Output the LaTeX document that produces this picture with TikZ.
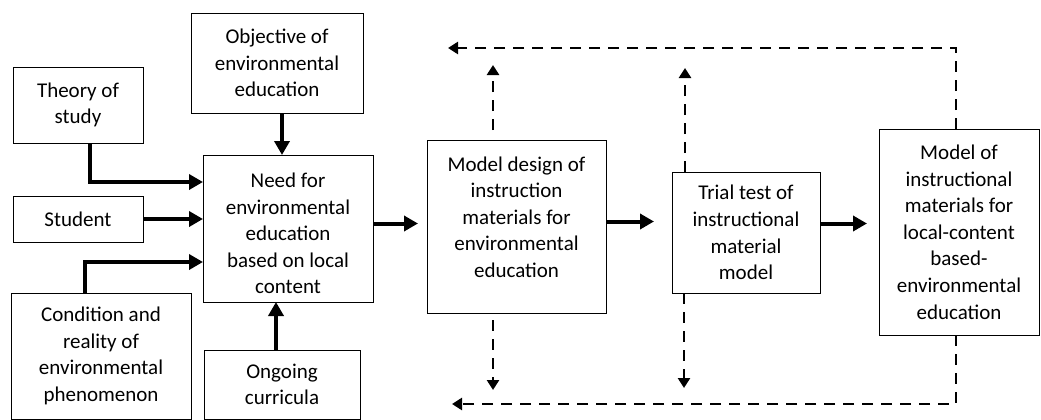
\documentclass[tikz,border=0pt]{standalone}
\usepackage{fontspec}
\setmainfont{Carlito}
\usetikzlibrary{arrows.meta}
\begin{document}
\begin{tikzpicture}[x=1pt,y=-1pt,
  box/.style={draw, line width=0.9pt, inner sep=0pt, outer sep=0pt, align=center, font=\fontsize{21}{26.6}\selectfont},
  txt/.style={align=center, inner sep=0pt, font=\fontsize{21}{26.6}\selectfont},
  arr/.style={line width=4pt, -{Triangle[length=14pt,width=15pt]}},
  darr/.style={line width=2.6pt, dash pattern=on 11pt off 8pt, -{Triangle[length=10pt,width=12pt]}}]
\useasboundingbox (0,0) rectangle (1041,420);
% boxes
\node[box, minimum width=130pt, minimum height=76pt] (theory) at (78,105) {Theory of\\study};
\node[box, minimum width=172pt, minimum height=100pt] (obj) at (277,63) {Objective of\\environmental\\education};
\node[box, minimum width=170pt, minimum height=147pt] (need) at (288,228.5) {};
\node[txt] (needtxt) at (288,233.5) {Need for\\environmental\\education\\based on local\\content};
\node[box, minimum width=130pt, minimum height=46pt] (student) at (78,219) {Student};
\node[box, minimum width=180pt, minimum height=126pt] (cond) at (101,356) {Condition and\\reality of\\environmental\\phenomenon};
\node[box, minimum width=156pt, minimum height=69pt] (ong) at (282,384.5) {Ongoing\\curricula};
\node[box, minimum width=179pt, minimum height=173pt] (md) at (516.5,226.5) {};
\node[txt] (mdtxt) at (516.5,217) {Model design of\\instruction\\materials for\\environmental\\education};
\node[box, minimum width=148pt, minimum height=121pt] (trial) at (746,232.5) {Trial test of\\instructional\\material\\model};
\node[box, minimum width=160pt, minimum height=206pt] (mo) at (959,232) {Model of\\instructional\\materials for\\local-content\\based-\\environmental\\education};
% solid arrows
\draw[arr] ([xshift=12pt]theory.south) |- ([yshift=46.5pt]need.west);
\draw[arr] (student.east) -- (student.east -| need.west);
\draw[arr] ([xshift=-16pt]cond.north) |- ([yshift=-33.5pt]need.west);
\draw[arr] ([xshift=5pt]obj.south) -- ([xshift=5pt]obj.south |- need.north);
\draw[arr] ([xshift=-6pt]ong.north) -- ([xshift=-6pt]ong.north |- need.south);
\draw[arr, shorten >=9pt] ([yshift=5pt]need.east) -- ([yshift=5pt]need.east -| md.west);
\draw[arr, shorten >=18pt] ([yshift=5pt]md.east) -- ([yshift=5pt]md.east -| trial.west);
\draw[arr, shorten >=12pt] ([yshift=9pt]trial.east) -- ([yshift=9pt]trial.east -| mo.west);
% dashed feedback
\coordinate (tl) at (448,48);
\coordinate (bl) at (452,404);
\draw[darr] ([xshift=-3pt]mo.north) |- (tl);
\draw[darr] ([xshift=-3pt]mo.south) |- (bl);
\draw[darr, shorten <=10pt, shorten >=17pt] ([xshift=-23.5pt]md.north) -- ([xshift=-23.5pt]md.north |- tl);
\draw[darr, shorten <=7pt, shorten >=14pt] ([xshift=-23.5pt]md.south) -- ([xshift=-23.5pt]md.south |- bl);
\draw[darr, shorten >=20pt] ([xshift=-61pt]trial.north) -- ([xshift=-61pt]trial.north |- tl);
\draw[darr, shorten >=16pt] ([xshift=-62pt]trial.south) -- ([xshift=-62pt]trial.south |- bl);
\end{tikzpicture}
\end{document}
